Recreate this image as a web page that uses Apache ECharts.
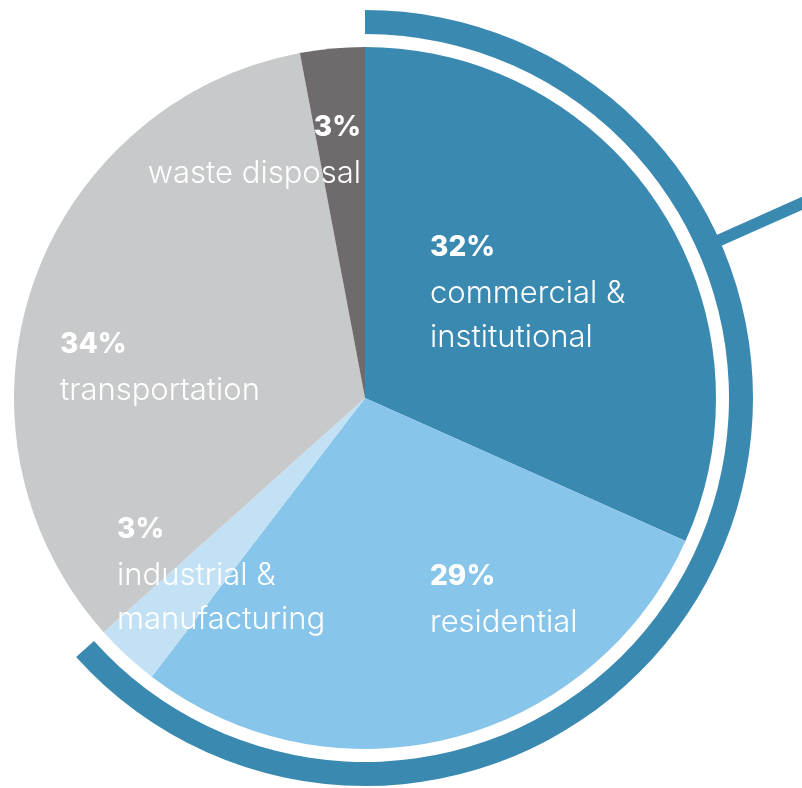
<!DOCTYPE html>
<html>
<head>
<meta charset="utf-8">
<script src="https://cdn.jsdelivr.net/npm/echarts@6/dist/echarts.min.js"></script>
<style>
  html, body { margin: 0; padding: 0; background: #ffffff; }
  #chart { width: 802px; height: 788px; }
</style>
</head>
<body>
<div id="chart"></div>
<script>
// Emission shares by sector, clockwise from 12 o'clock
const sectors = ['commercial &\ninstitutional', 'residential', 'industrial &\nmanufacturing', 'transportation', 'waste disposal'];
const shares = [32, 29, 3, 34, 3];
const sectorColors = ['#3a89b1', '#87c5ea', '#c3e1f5', '#c8c9cb', '#6f6a6c'];
// The outer arc highlights the building-related sectors
const highlighted = [0, 1, 2];

// Layout of the drawing
const CX = 365, CY = 398, R = 351;
const RING = [364, 388];
const CONNECTOR_DEG = 24;          // connector direction, degrees above horizontal
const FONT = 'Inter, "Noto Sans", sans-serif';
// label block anchor relative to the pie centre: [dx, dy, align]
const labelAnchors = [
  [65, -174, 'left'],
  [65, 155, 'left'],
  [-248, 108, 'left'],
  [-305, -77, 'left'],
  [-4, -294, 'right']
];

const chart = echarts.init(document.getElementById('chart'), null, { renderer: 'canvas' });

const highlightedTotal = highlighted.reduce((s, i) => s + shares[i], 0);
const total = shares.reduce((s, v) => s + v, 0);

const a = CONNECTOR_DEG * Math.PI / 180;
const x0 = CX + (RING[1] - 6) * Math.cos(a), y0 = CY - (RING[1] - 6) * Math.sin(a);
const x1 = CX + 520 * Math.cos(a), y1 = CY - 520 * Math.sin(a);

chart.setOption({
  animation: false,
  backgroundColor: '#ffffff',
  graphic: [{
    type: 'line',
    z: 1,
    shape: { x1: x0, y1: y0, x2: x1, y2: y1 },
    style: { stroke: '#3a89b1', lineWidth: 12 }
  }],
  series: [
    {
      type: 'pie',
      center: [CX, CY],
      radius: [0, R],
      startAngle: 90,
      clockwise: true,
      silent: true,
      itemStyle: { borderWidth: 0 },
      data: sectors.map((name, i) => ({
        name: name,
        value: shares[i],
        itemStyle: { color: sectorColors[i] }
      })),
      label: {
        show: true,
        position: 'inside',
        color: '#ffffff',
        fontFamily: FONT,
        formatter: p => '{p|' + p.value + '%}\n' +
          p.name.split('\n').map(t => '{n|' + t + '}').join('\n'),
        rich: {
          p: { fontFamily: FONT, fontSize: 28, fontWeight: 800, lineHeight: 48, color: '#ffffff' },
          n: { fontFamily: FONT, fontSize: 31, fontWeight: 300, lineHeight: 44, color: '#ffffff' }
        }
      },
      labelLine: { show: false },
      labelLayout: p => {
        const an = labelAnchors[p.dataIndex];
        return { x: CX + an[0], y: CY + an[1], align: an[2], verticalAlign: 'top' };
      }
    },
    {
      type: 'pie',
      center: [CX, CY],
      radius: RING,
      startAngle: 90,
      clockwise: true,
      silent: true,
      z: 2,
      label: { show: false },
      labelLine: { show: false },
      data: [
        { value: highlightedTotal, itemStyle: { color: '#3a89b1' } },
        { value: total - highlightedTotal, itemStyle: { color: 'rgba(0,0,0,0)' } }
      ]
    }
  ]
});
</script>
</body>
</html>
